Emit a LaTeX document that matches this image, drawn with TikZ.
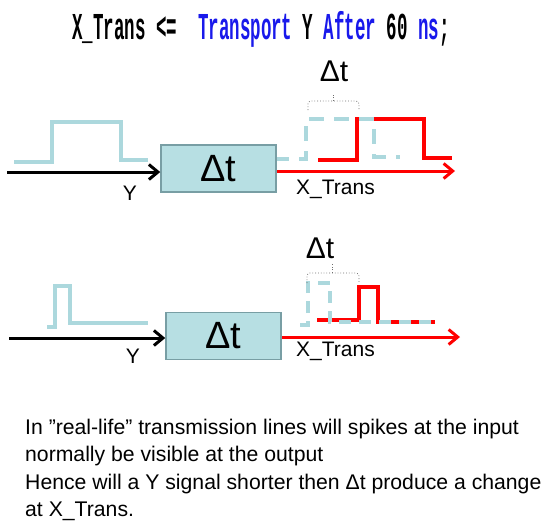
\documentclass[tikz,border=0pt]{standalone}
\usepackage{fontspec}
\setmainfont{Liberation Sans}
\newfontfamily\monof{Liberation Mono}[BoldFont={Liberation Mono Bold}]
\usetikzlibrary{arrows.meta}
\definecolor{pulseblue}{RGB}{172,216,221}
\definecolor{boxfill}{RGB}{183,223,227}
\definecolor{boxline}{RGB}{120,158,164}
\definecolor{codeblue}{RGB}{25,25,235}
\definecolor{bracegray}{RGB}{110,110,110}
\tikzset{
  delaybox/.style={draw=boxline, line width=1.5pt, fill=boxfill, minimum width=115pt, minimum height=47pt, inner sep=0pt, font=\fontsize{38}{42}\selectfont},
  inarrow/.style={draw=black, line width=3pt, -{Straight Barb[length=9pt,width=15pt,line width=3pt]}},
  outarrow/.style={draw=red, line width=3pt, -{Straight Barb[length=9pt,width=15pt,line width=3pt]}},
  inpulse/.style={draw=pulseblue, line width=3.5pt},
  ghost/.style={draw=pulseblue, line width=3.5pt, dash pattern=on 15pt off 10pt},
  outpulse/.style={draw=red, line width=4.5pt},
  bracestyle/.style={draw=bracegray, line width=0.8pt, dotted, rounded corners=3pt},
  siglabel/.style={font=\fontsize{21}{24}\selectfont, inner sep=0pt},
  dtlabel/.style={font=\fontsize{30}{33}\selectfont, inner sep=0pt},
  note/.style={font=\fontsize{21.2}{25}\selectfont, inner sep=0pt, anchor=base west}
}
\begin{document}
\begin{tikzpicture}[x=1pt, y=-1pt]
\useasboundingbox (0,0) rectangle (549,520);
% title
\node[anchor=base west, inner sep=0pt] (title) at (72,39) {\scalebox{0.46}[1]{\monof\bfseries\fontsize{38}{40}\selectfont X\_Trans <=\ \ \textcolor{codeblue}{Transport} Y \textcolor{codeblue}{After} 60 \textcolor{codeblue}{ns};}};

% ---------- top diagram ----------
\node[delaybox] (box1) at (218.5,168.5) {Δt};
\coordinate (in1) at (7,172);
\coordinate (out1) at (455,171);
\draw[inarrow] (in1) -- (in1 -| box1.west);
\draw[outarrow] (out1 -| box1.east) -- (out1);
\node[siglabel] (y1) at (130,193) {Y};
\node[siglabel, anchor=west] (x1) at (296,189.5) {X\_Trans};
\draw[inpulse] (14,162) -- (52,162) -- (52,122) -- (121,122) -- (121,160) -- (148,160);
\draw[outpulse] (318,160) -- (357,160) -- (357,119) -- (424,119) -- (424,158) -- (452,158);
\draw[ghost, dash phase=3pt] (277,159) -- (306,159) -- (306,119) -- (374,119) -- (374,157) -- (400,157);
\draw[bracestyle] (308,110) -- (308,101) -- (359,101) -- (359,110);
\draw[bracestyle] (333,101) -- (333,93);
\node[dtlabel] (dt1) at (334,71) {Δt};

% ---------- bottom diagram ----------
\node[delaybox] (box2) at (223.5,336) {Δt};
\coordinate (in2) at (9,338);
\coordinate (out2) at (460,337);
\draw[inarrow] (in2) -- (in2 -| box2.west);
\draw[outarrow] (out2 -| box2.east) -- (out2);
\node[siglabel] (y2) at (133,356) {Y};
\node[siglabel, anchor=west] (x2) at (296,351) {X\_Trans};
\draw[inpulse] (47,327) -- (55,327) -- (55,286) -- (70,286) -- (70,323) -- (148,323);
\draw[outpulse] (317,320) -- (359,320) -- (359,287) -- (378,287) -- (378,322) -- (435,322);
\draw[ghost, dash pattern=on 12pt off 8pt] (300,325) -- (308,325) -- (308,283) -- (330,283) -- (330,322) -- (437,322);
\draw[bracestyle] (307,283) -- (307,273) -- (359,273) -- (359,283);
\draw[bracestyle] (332,273) -- (332,264);
\node[dtlabel] (dt2) at (320,248) {Δt};

% ---------- note ----------
\node[note] (n1) at (25,434) {In ”real-life” transmission lines will spikes at the input};
\node[note] (n2) at (25,461.5) {normally be visible at the output};
\node[note] (n3) at (25,489) {Hence will a Y signal shorter then Δt produce a change};
\node[note] (n4) at (25,516) {at X\_Trans.};
\end{tikzpicture}
\end{document}
